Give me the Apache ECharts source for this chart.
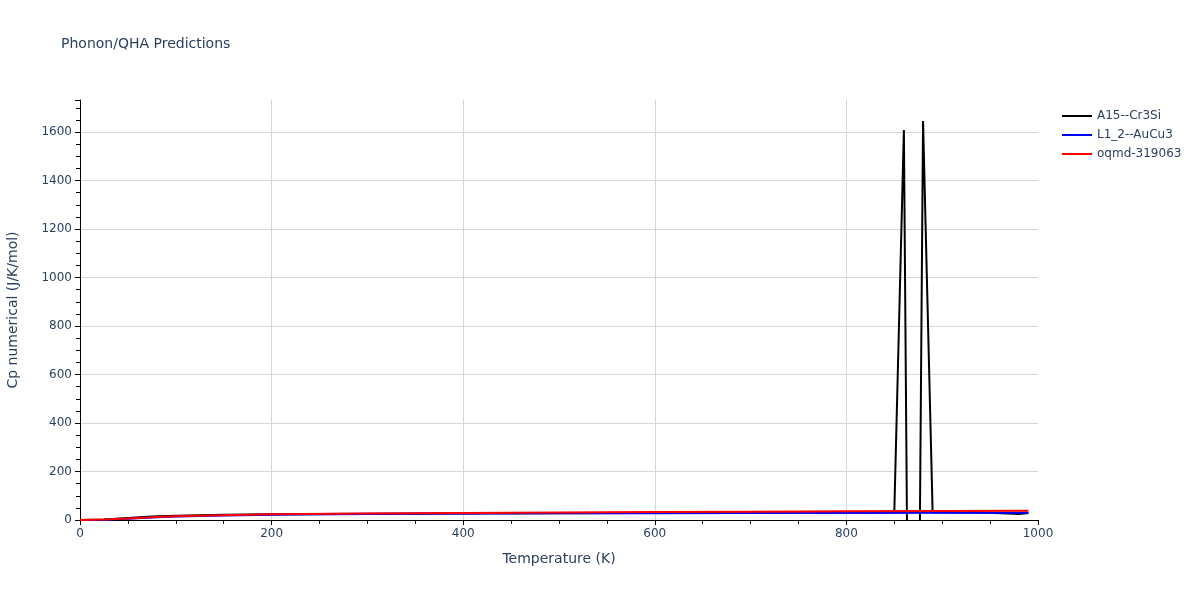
<!DOCTYPE html>
<html>
<head>
<meta charset="utf-8">
<script src="https://cdn.jsdelivr.net/npm/echarts@6/dist/echarts.min.js"></script>
<style>html,body{margin:0;padding:0;background:#fff}#c{width:1200px;height:600px}</style>
</head>
<body>
<div id="c"></div>
<script>
var seriesNames = ['A15--Cr3Si', 'L1_2--AuCu3', 'oqmd-319063'];
var seriesColors = ['#000000', '#0000ff', '#ff0000'];

var tempA15 = [0, 25, 50, 75, 100, 150, 200, 300, 400, 500, 600, 700, 800, 850, 860, 870, 880, 890, 900, 950, 980, 990];
var cpA15   = [0, 2, 8, 14, 18, 22, 24, 26, 27, 28, 29, 30, 31, 32, 1608, -3400, 1645, 31, 31, 30, 25, 29];

var tempL12 = [0, 25, 50, 75, 100, 150, 200, 300, 400, 500, 600, 700, 800, 900, 990];
var cpL12   = [0, 1.5, 5, 10, 14, 19, 22, 25, 26.5, 27.5, 28, 28.5, 29, 29.5, 30];

var tempOq = [0, 25, 50, 75, 100, 150, 200, 300, 400, 500, 600, 700, 800, 900, 990];
var cpOq   = [0, 2, 6, 11, 15, 20, 24, 27, 29, 31, 33, 34.5, 36, 37, 38];

function pairs(xs, ys) { return xs.map(function (x, i) { return [x, ys[i]]; }); }

var txt = '#2a3f5f';
var gridC = '#d6d6d6';
var ff = 'DejaVu Sans, Verdana, sans-serif';
var chart = echarts.init(document.getElementById('c'));
chart.setOption({
  animation: false,
  backgroundColor: '#fff',
  title: {
    text: 'Phonon/QHA Predictions',
    left: 61, top: 37, padding: 0,
    textStyle: { color: txt, fontSize: 14, fontWeight: 'normal', fontFamily: ff }
  },
  legend: {
    orient: 'vertical', left: 1057, top: 105, itemGap: 7,
    itemWidth: 30, itemHeight: 12,
    icon: 'path://M0,5 L30,5 L30,7 L0,7 Z',
    textStyle: { color: txt, fontSize: 12, fontFamily: ff },
    data: seriesNames
  },
  grid: { left: 80, right: 162, top: 100, bottom: 80, outerBoundsMode: 'none', containLabel: false },
  xAxis: {
    type: 'value', min: 0, max: 1000, interval: 200,
    name: 'Temperature (K)', nameLocation: 'middle', nameGap: 32,
    nameTextStyle: { color: txt, fontSize: 14, fontFamily: ff },
    axisLine: { show: true, onZero: false, lineStyle: { color: '#000', width: 1 } },
    axisTick: { show: true, length: 5, lineStyle: { color: '#000' } },
    minorTick: { show: true, splitNumber: 4, length: 4, lineStyle: { color: '#000' } },
    axisLabel: { color: txt, fontSize: 12, margin: 8, fontFamily: ff, formatter: function (v) { return String(v); } },
    splitLine: { show: true, lineStyle: { color: ['rgba(0,0,0,0)', gridC, gridC, gridC, gridC, 'rgba(0,0,0,0)'], width: 1 } }
  },
  yAxis: {
    type: 'value', min: 0, max: 1732, interval: 200,
    name: 'Cp numerical (J/K/mol)', nameLocation: 'middle', nameGap: 60,
    nameTextStyle: { color: txt, fontSize: 14, fontFamily: ff },
    axisLine: { show: true, onZero: false, lineStyle: { color: '#000', width: 1 } },
    axisTick: { show: true, length: 5, lineStyle: { color: '#000' } },
    minorTick: { show: true, splitNumber: 4, length: 4, lineStyle: { color: '#000' } },
    axisLabel: { color: txt, fontSize: 12, margin: 8, showMaxLabel: false, fontFamily: ff, formatter: function (v) { return String(v); } },
    splitLine: { show: true, lineStyle: { color: ['rgba(0,0,0,0)', gridC, gridC, gridC, gridC, gridC, gridC, gridC, gridC, 'rgba(0,0,0,0)'], width: 1 } }
  },
  series: [
    { name: seriesNames[0], type: 'line', data: pairs(tempA15, cpA15), showSymbol: false, symbol: 'none', clip: true,
      lineStyle: { color: seriesColors[0], width: 2 }, itemStyle: { color: seriesColors[0] } },
    { name: seriesNames[1], type: 'line', data: pairs(tempL12, cpL12), showSymbol: false, symbol: 'none', clip: true,
      lineStyle: { color: seriesColors[1], width: 2 }, itemStyle: { color: seriesColors[1] } },
    { name: seriesNames[2], type: 'line', data: pairs(tempOq, cpOq), showSymbol: false, symbol: 'none', clip: true,
      lineStyle: { color: seriesColors[2], width: 2 }, itemStyle: { color: seriesColors[2] } }
  ]
});
</script>
</body>
</html>
